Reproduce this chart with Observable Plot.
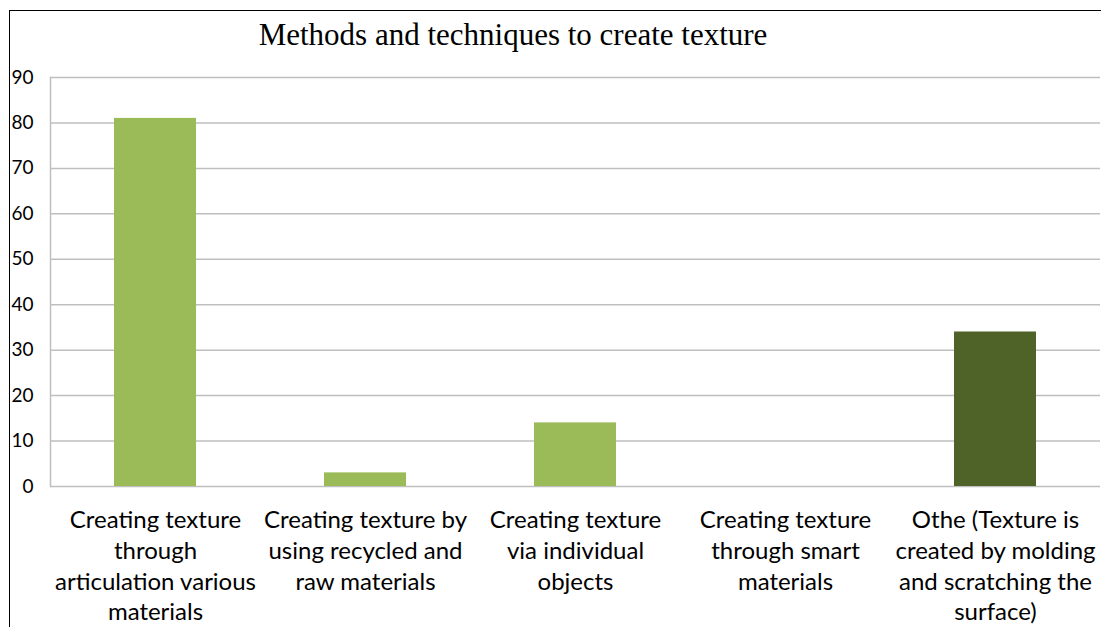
<!DOCTYPE html>
<html>
<head>
<meta charset="utf-8">
<script src="https://cdn.jsdelivr.net/npm/d3@7"></script>
<script src="https://cdn.jsdelivr.net/npm/@observablehq/plot@0.6"></script>
<style>
  html, body { margin: 0; padding: 0; background: #fff; }
  #wrap { position: relative; width: 1101px; height: 627px; overflow: hidden; background: #fff; }
  #frame { position: absolute; left: 9px; top: 10px; width: 1092px; height: 640px;
           border-top: 1.5px solid #000; border-left: 1.5px solid #000; pointer-events: none; z-index: 2; }
  #title { height: 60px; width: 1026px; text-align: center; font-family: "Liberation Serif", "Times New Roman", serif;
           font-size: 31px; line-height: 31px; padding-top: 19px; box-sizing: border-box; color: #000; }
  #chart svg { display: block; }
</style>
</head>
<body>
<div id="wrap">
  <div id="frame"></div>
  <div id="title">Methods and techniques to create texture</div>
  <div id="chart"></div>
</div>
<script>
const categories = ["A", "B", "C", "D", "E"];
const labels = [
  "Creating texture\nthrough\narticulation various\nmaterials",
  "Creating texture by\nusing recycled and\nraw materials",
  "Creating texture\nvia individual\nobjects",
  "Creating texture\nthrough smart\nmaterials",
  "Othe (Texture is\ncreated by molding\nand scratching the\nsurface)"
];
const values = [81, 3, 14, 0, 34];
const yTicks = [0, 10, 20, 30, 40, 50, 60, 70, 80, 90];

const data = categories.map((c, i) => ({cat: c, value: values[i], idx: i}));
const labelOf = new Map(categories.map((c, i) => [c, labels[i]]));

const chart = Plot.plot({
  width: 1101,
  height: 567,
  marginLeft: 50,
  marginRight: 1,
  marginTop: 17,
  marginBottom: 141,
  style: {fontFamily: "Lato, sans-serif", background: "transparent", color: "#000"},
  x: {domain: categories, paddingInner: 0.61, paddingOuter: 0.305},
  y: {domain: [0, 90]},
  marks: [
    Plot.gridY(yTicks, {stroke: "#bfbfbf", strokeOpacity: 1, strokeWidth: 1.5}),
    Plot.frame({anchor: "left", stroke: "#bfbfbf", strokeWidth: 1.5}),
    Plot.barY(data, {x: "cat", y: "value", fill: d => d.idx === 4 ? "#4f6228" : "#9bbb59"}),
    Plot.axisY(yTicks, {tickSize: 0, tickPadding: 17, fontSize: 19, label: null, fill: "#000"}),
    Plot.axisX({tickSize: 0, tickPadding: 20, fontSize: 24, lineHeight: 1.28, lineAnchor: "top",
                tickFormat: c => labelOf.get(c), label: null, fill: "#000"})
  ]
});
document.getElementById("chart").appendChild(chart);
</script>
</body>
</html>
